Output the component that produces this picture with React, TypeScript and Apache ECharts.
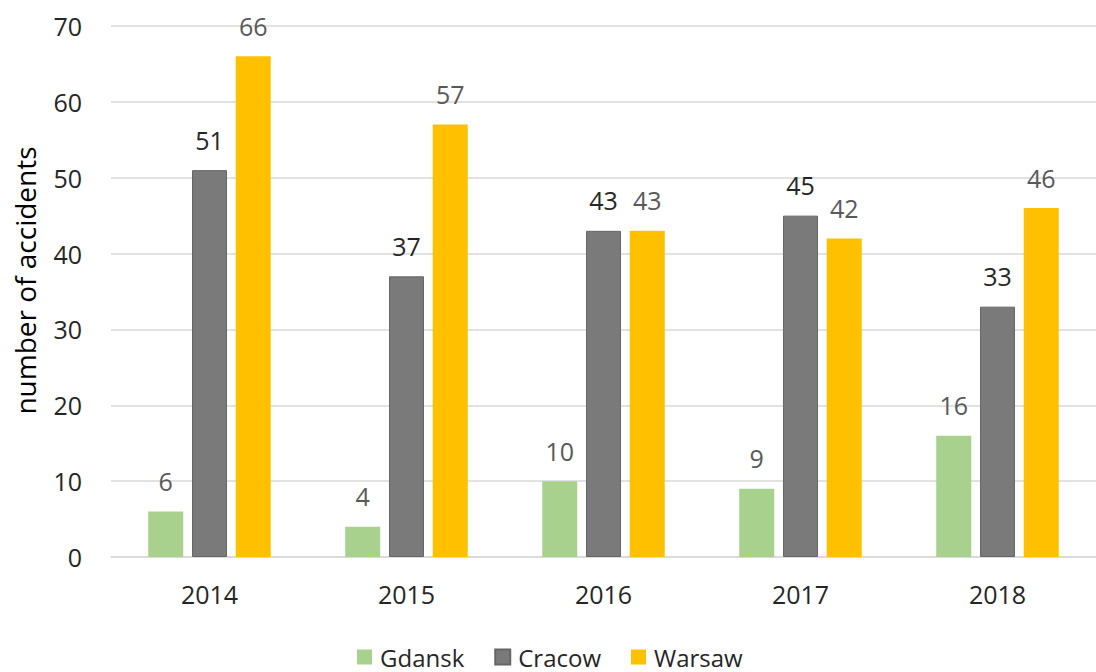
import React, { useEffect, useRef } from "react";
import * as echarts from "echarts";

const years = ["2014", "2015", "2016", "2017", "2018"];
const gdansk = [6, 4, 10, 9, 16];
const cracow = [51, 37, 43, 45, 33];
const warsaw = [66, 57, 43, 42, 46];

const FONT = "'Open Sans', 'Noto Sans', sans-serif";

export default function App() {
  const ref = useRef<HTMLDivElement>(null);
  useEffect(() => {
    if (!ref.current) return;
    const chart = echarts.init(ref.current, undefined, { renderer: "svg" });
    const label = (color: string) => ({
      show: true,
      position: "top" as const,
      distance: 18,
      color,
      fontSize: 25,
      fontFamily: FONT,
    });
    chart.setOption({
      animation: false,
      backgroundColor: "#ffffff",
      textStyle: { fontFamily: FONT },
      grid: { left: 111, right: 0, top: 26, bottom: 115, containLabel: false },
      legend: {
        top: 645,
        left: 357,
        itemWidth: 15,
        itemHeight: 15,
        itemGap: 30,
        icon: "rect",
        padding: 0,
        textStyle: {
          fontSize: 24,
          lineHeight: 24,
          color: "#262626",
          fontFamily: FONT,
          padding: [0, 0, 0, 3],
        },
        data: ["Gdansk", "Cracow", "Warsaw"],
      },
      xAxis: {
        type: "category",
        data: years,
        axisLine: { show: true, lineStyle: { color: "#d9d9d9", width: 1.5 } },
        axisTick: { show: false },
        axisLabel: { fontSize: 25, color: "#262626", margin: 24, fontFamily: FONT },
      },
      yAxis: {
        type: "value",
        min: 0,
        max: 70,
        interval: 10,
        name: "number of accidents",
        nameLocation: "middle",
        nameGap: 72,
        nameTextStyle: { fontSize: 28, color: "#000000", fontFamily: FONT, padding: [0, 0, 0, 22] },
        axisLine: { show: false },
        axisTick: { show: false },
        axisLabel: { fontSize: 25, color: "#262626", margin: 29, fontFamily: FONT },
        splitLine: { lineStyle: { color: "#d9d9d9", width: 1.5 } },
      },
      series: [
        {
          name: "Gdansk",
          type: "bar",
          data: gdansk,
          barWidth: 35,
          barGap: "25%",
          itemStyle: { color: "#a9d18e" },
          label: label("#595959"),
        },
        {
          name: "Cracow",
          type: "bar",
          data: cracow,
          barWidth: 35,
          barGap: "25%",
          itemStyle: { color: "#7a7a7a", borderColor: "#666666", borderWidth: 1 },
          label: label("#262626"),
        },
        {
          name: "Warsaw",
          type: "bar",
          data: warsaw,
          barWidth: 35,
          barGap: "25%",
          itemStyle: { color: "#ffc000" },
          label: label("#595959"),
        },
      ],
    });
    return () => chart.dispose();
  }, []);
  return (
    <div
      ref={ref}
      style={{ position: "absolute", left: 0, top: 0, width: 1096, height: 672 }}
    />
  );
}
